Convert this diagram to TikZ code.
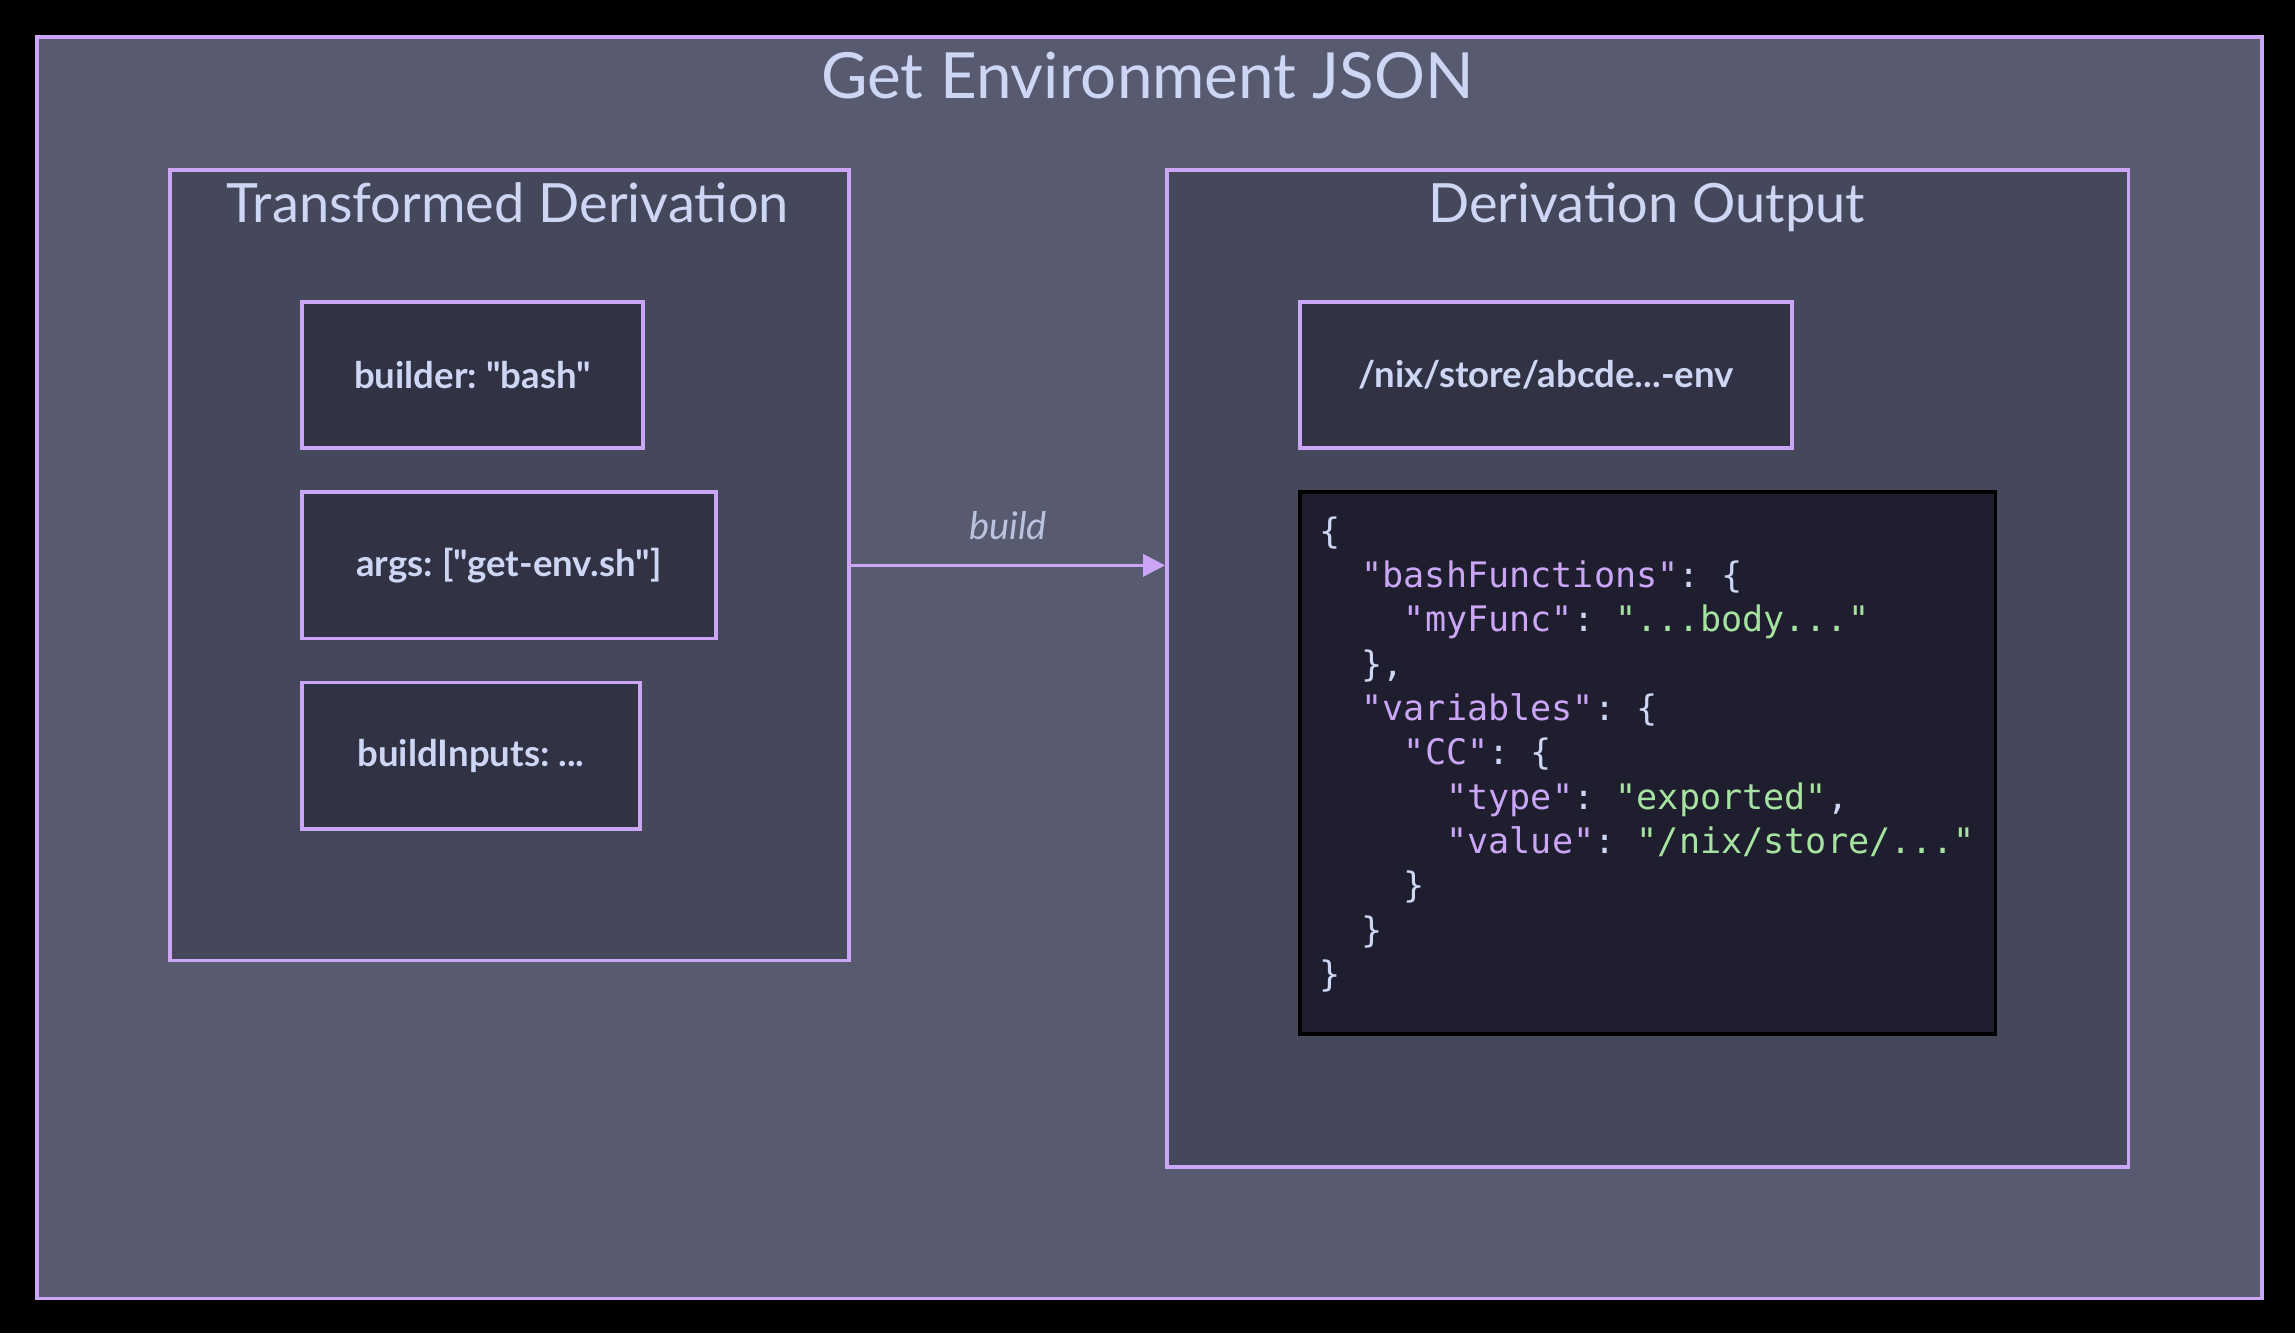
\documentclass[tikz,border=0pt]{standalone}
\usepackage{fontspec}
\setmainfont{Lato}
\newfontfamily\boxfont{Lato}[Ligatures=ResetAll]
\newfontfamily\codefont{DejaVu Sans Mono}
\usetikzlibrary{arrows.meta}
\frenchspacing
\definecolor{bgblack}{HTML}{000000}
\definecolor{surftwo}{HTML}{585B70}
\definecolor{surfone}{HTML}{45475A}
\definecolor{surfzero}{HTML}{313244}
\definecolor{codebase}{HTML}{1E1E2E}
\definecolor{mauve}{HTML}{CBA6F7}
\definecolor{txt}{HTML}{CDD6F4}
\definecolor{subtxt}{HTML}{BAC2DE}
\definecolor{grn}{HTML}{A6E3A1}
\tikzset{
  x=1pt, y=-1pt,
  box/.style={draw=mauve, line width=2.5pt, inner sep=0pt, anchor=north west},
  leaf/.style={box, fill=surfzero, text=txt, font=\boxfont\fontsize{25}{30}\selectfont\bfseries},
  ttl/.style={text=txt, inner sep=0pt, anchor=base},
  codeline/.style={anchor=base west, inner sep=0pt, text=txt, font=\codefont\fontsize{24}{30}\selectfont},
}
\newcommand{\ky}[1]{\textcolor{mauve}{#1}}
\newcommand{\sv}[1]{\textcolor{grn}{#1}}
\begin{document}
\begin{tikzpicture}
\useasboundingbox (0,0) rectangle (1568,911);
\fill[bgblack] (0,0) rectangle (1568,911);
% outer
\node[box, fill=surftwo, minimum width=1520pt, minimum height=862pt] (outer) at (24,24) {};
\node[ttl, font=\fontsize{43.5}{50}\selectfont] (outertitle) at (784,67) {Get Environment JSON};
% left container
\node[box, fill=surfone, minimum width=464pt, minimum height=540pt] (left) at (115,115) {};
\node[ttl, font=\fontsize{37}{44}\selectfont] (lefttitle) at (347,152) {Transformed Derivation};
\node[leaf, minimum width=233pt, minimum height=100pt] (builder) at (205,205) {builder: "bash"};
\node[leaf, minimum width=283pt, minimum height=100pt] (args) at (205,335) {args: ["get-env.sh"]};
\node[leaf, minimum width=231pt, minimum height=100pt] (inputs) at (205,465) {buildInputs: ...};
% right container
\node[box, fill=surfone, minimum width=657pt, minimum height=681pt] (right) at (796,115) {};
\node[ttl, font=\fontsize{37}{44}\selectfont] (righttitle) at (1125,152) {Derivation Output};
\node[leaf, minimum width=336pt, minimum height=100pt] (store) at (887,205) {/nix/store/abcde...-env};
\node[box, draw=black, fill=codebase, minimum width=475pt, minimum height=370pt] (code) at (887,335) {};
\node[codeline] (c1) at (901,371.0) {\{};
\node[codeline] (c2) at (930,401.3) {\ky{"bashFunctions"}: \{};
\node[codeline] (c3) at (959,431.6) {\ky{"myFunc"}: \sv{"...body..."}};
\node[codeline] (c4) at (930,461.9) {\},};
\node[codeline] (c5) at (930,492.2) {\ky{"variables"}: \{};
\node[codeline] (c6) at (959,522.5) {\ky{"CC"}: \{};
\node[codeline] (c7) at (988,552.8) {\ky{"type"}: \sv{"exported"},};
\node[codeline] (c8) at (988,583.1) {\ky{"value"}: \sv{"/nix/store/..."}};
\node[codeline] (c9) at (959,613.4) {\}};
\node[codeline] (c10) at (930,643.7) {\}};
\node[codeline] (c11) at (901,674.0) {\}};
% arrow
\draw[draw=mauve, line width=2.5pt, -{Triangle[length=15pt,width=15pt]}] (left.east) -- (left.east -| right.west)
  node[midway, above=16pt, text=subtxt, font=\fontsize{26}{30}\selectfont\itshape, inner sep=0pt] (buildlabel) {build};
\end{tikzpicture}
\end{document}
